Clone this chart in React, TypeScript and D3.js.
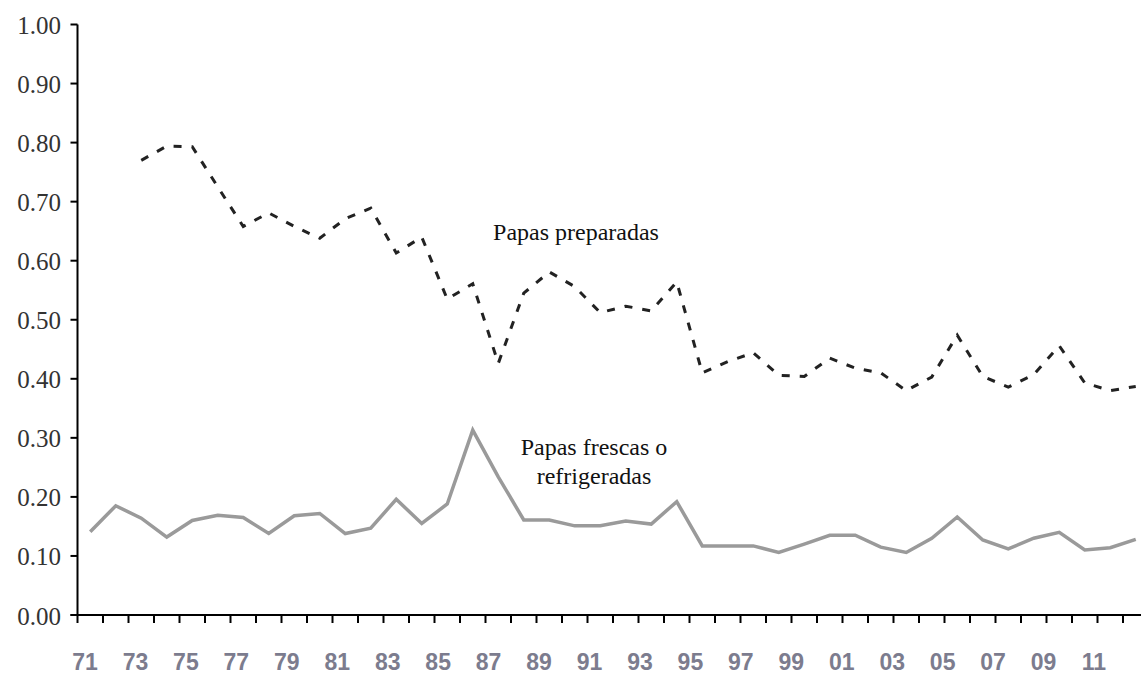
import React from "react";
import * as d3 from "d3";

const years = [
  1971, 1972, 1973, 1974, 1975, 1976, 1977, 1978, 1979, 1980,
  1981, 1982, 1983, 1984, 1985, 1986, 1987, 1988, 1989, 1990,
  1991, 1992, 1993, 1994, 1995, 1996, 1997, 1998, 1999, 2000,
  2001, 2002, 2003, 2004, 2005, 2006, 2007, 2008, 2009, 2010,
  2011, 2012,
];

const tickLabelYears = [
  1971, 1973, 1975, 1977, 1979, 1981, 1983, 1985, 1987, 1989, 1991,
  1993, 1995, 1997, 1999, 2001, 2003, 2005, 2007, 2009, 2011,
];

const yTicks = [0, 0.1, 0.2, 0.3, 0.4, 0.5, 0.6, 0.7, 0.8, 0.9, 1.0];

// Papas frescas o refrigeradas (gray solid)
const frescas = [
  0.141, 0.185, 0.164, 0.132, 0.160, 0.169, 0.165, 0.138, 0.168, 0.172,
  0.138, 0.147, 0.196, 0.155, 0.188, 0.313, 0.234, 0.161, 0.161, 0.151,
  0.151, 0.159, 0.154, 0.192, 0.117, 0.117, 0.117, 0.106, 0.120, 0.135,
  0.135, 0.115, 0.106, 0.130, 0.166, 0.127, 0.112, 0.130, 0.140, 0.110,
  0.114, 0.128,
];

// Papas preparadas (black dashed), no data for 1971-1972
const preparadas = [
  null, null, 0.770, 0.794, 0.793, 0.725, 0.658, 0.681, 0.658, 0.638,
  0.671, 0.689, 0.613, 0.640, 0.535, 0.561, 0.426, 0.545, 0.581, 0.556,
  0.512, 0.523, 0.515, 0.564, 0.410, 0.429, 0.444, 0.406, 0.404, 0.435,
  0.418, 0.410, 0.380, 0.403, 0.474, 0.404, 0.386, 0.407, 0.456, 0.393,
  0.380, 0.387,
];

const W = 1141;
const H = 677;
const axisX = 77.5;
const axisY = 615;
const step = 25.5;

export default function App() {
  const x = d3
    .scaleBand<number>()
    .domain(years)
    .range([axisX, axisX + step * years.length])
    .paddingInner(0)
    .paddingOuter(0);
  const cx = (yr: number) => (x(yr) as number) + x.bandwidth() / 2;

  const xLabel = d3.scaleLinear().domain([1971, 2011]).range([85, 1094]);

  const y = d3.scaleLinear().domain([0, 1]).range([axisY, 24.5]);

  const line = d3
    .line<[number, number | null]>()
    .defined((d) => d[1] != null)
    .x((d) => cx(d[0]))
    .y((d) => y(d[1] as number));

  const frescasPath = line(years.map((yr, i) => [yr, frescas[i]]));
  const prepPath = line(years.map((yr, i) => [yr, preparadas[i]]));

  const boundaries = years.map((yr) => x(yr) as number).concat([axisX + step * years.length]);

  return (
    <div style={{ position: "absolute", left: 0, top: 0, width: W, height: H, background: "#fff" }}>
      <svg width={W} height={H} viewBox={`0 0 ${W} ${H}`} style={{ display: "block" }}>
        <rect x={0} y={0} width={W} height={H} fill="#fff" />

        {/* data lines */}
        <path d={frescasPath || ""} fill="none" stroke="#9a9a9a" strokeWidth={3.5} strokeLinejoin="miter" />
        <path
          d={prepPath || ""}
          fill="none"
          stroke="#222"
          strokeWidth={3}
          strokeDasharray="8 10"
          strokeLinejoin="miter"
        />

        {/* y axis */}
        <line x1={axisX} x2={axisX} y1={y(1)} y2={axisY} stroke="#000" strokeWidth={2} />
        {yTicks.map((t) => (
          <g key={t}>
            <line x1={axisX - 7} x2={axisX} y1={y(t)} y2={y(t)} stroke="#000" strokeWidth={2} />
            <text
              x={61}
              y={y(t) + 9.5}
              textAnchor="end"
              fontFamily="'Liberation Serif', 'Times New Roman', serif"
              fontSize={25}
              fill="#333"
            >
              {d3.format(".2f")(t)}
            </text>
          </g>
        ))}

        {/* x axis */}
        <line x1={axisX - 7} x2={W} y1={axisY} y2={axisY} stroke="#000" strokeWidth={2} />
        {boundaries.map((bx, i) => (
          <line key={i} x1={bx} x2={bx} y1={axisY} y2={axisY + 8} stroke="#000" strokeWidth={2} />
        ))}
        {tickLabelYears.map((yr) => (
          <text
            key={yr}
            x={xLabel(yr)}
            y={670}
            textAnchor="middle"
            fontFamily="'Liberation Sans', Arial, sans-serif"
            fontWeight="bold"
            fontSize={23}
            fill="#7c7c8e"
          >
            {String(yr).slice(2)}
          </text>
        ))}

        {/* annotations */}
        <text
          x={576}
          y={240}
          textAnchor="middle"
          fontFamily="'Liberation Serif', 'Times New Roman', serif"
          fontSize={24}
          fill="#111"
        >
          Papas preparadas
        </text>
        <text
          x={594}
          y={455}
          textAnchor="middle"
          fontFamily="'Liberation Serif', 'Times New Roman', serif"
          fontSize={24}
          fill="#111"
        >
          Papas frescas o
        </text>
        <text
          x={594}
          y={484}
          textAnchor="middle"
          fontFamily="'Liberation Serif', 'Times New Roman', serif"
          fontSize={24}
          fill="#111"
        >
          refrigeradas
        </text>
      </svg>
    </div>
  );
}
